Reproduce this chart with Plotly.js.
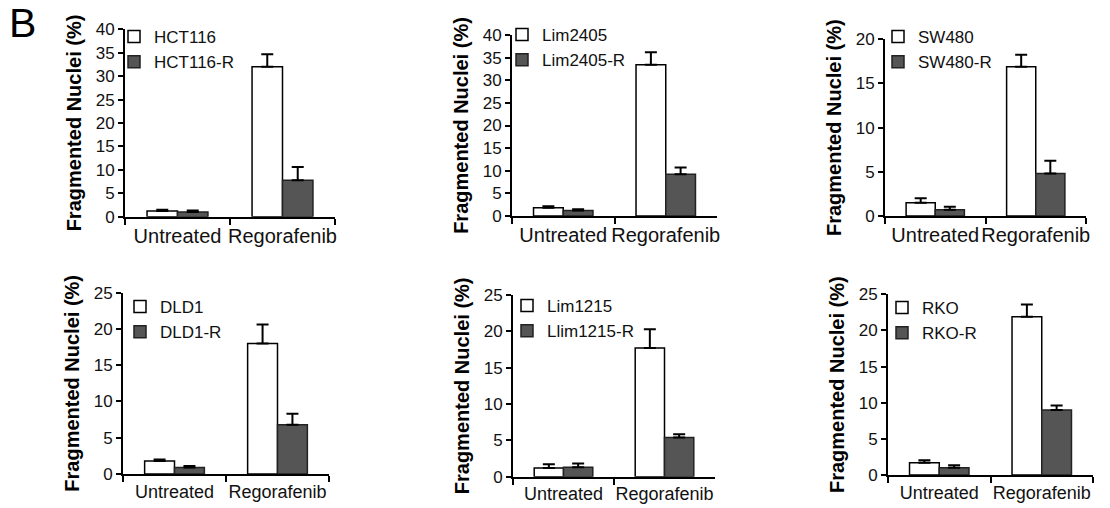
<!DOCTYPE html>
<html>
<head>
<meta charset="utf-8">
<script src="https://cdn.plot.ly/plotly-3.0.1.min.js"></script>
<style>html,body{margin:0;padding:0;background:#fff;}#chart{width:1110px;height:508px;}</style>
</head>
<body>
<div id="chart"></div>
<script>
// ---- data ----
const categories = ['Untreated', 'Regorafenib'];
const parentalNames = ['HCT116', 'Lim2405', 'SW480', 'DLD1', 'Lim1215', 'RKO'];
const resistantNames = ['HCT116-R', 'Lim2405-R', 'SW480-R', 'DLD1-R', 'Llim1215-R', 'RKO-R'];
const parentalValues = [[1.2, 32.0], [1.8, 33.4], [1.5, 16.9], [1.8, 18.0], [1.2, 17.7], [1.7, 21.9]];
const parentalErrors = [[0.3, 2.7], [0.35, 2.8], [0.5, 1.35], [0.2, 2.6], [0.5, 2.6], [0.35, 1.7]];
const resistantValues = [[1.0, 7.8], [1.2, 9.2], [0.7, 4.8], [0.9, 6.8], [1.3, 5.4], [1.0, 9.0]];
const resistantErrors = [[0.3, 2.8], [0.3, 1.5], [0.35, 1.45], [0.2, 1.5], [0.5, 0.45], [0.35, 0.6]];
const yMax = [40, 40, 20, 25, 25, 25];
const yTitle = 'Fragmented Nuclei (%)';
const panelLabel = 'B';

// ---- layout (pixel boxes: left, right, top, bottom) ----
const W = 1110, H = 508;
const boxes = [[125, 335, 29.3, 216.7], [512, 717, 35, 216], [885, 1086, 39.3, 216],
               [123, 329, 292.7, 474], [513, 715, 295, 476.7], [888, 1093, 294.3, 475]];
const legendPos = [[114, 19], [502, 17], [878, 19], [120, 289], [507, 288], [882, 290]];
const FONT = '"Liberation Sans", Arial, sans-serif';

const traces = [];
const layout = {
  width: W, height: H,
  margin: {l: 0, r: 0, t: 0, b: 0},
  paper_bgcolor: '#fff', plot_bgcolor: '#fff',
  barmode: 'group', bargap: 0.42, bargroupgap: 0,
  font: {family: FONT, color: '#000', size: 16},
  showlegend: true,
  annotations: [{
    text: panelLabel, xref: 'paper', yref: 'paper', x: 7 / W, y: 1 + 2 / H,
    xanchor: 'left', yanchor: 'top', showarrow: false,
    font: {family: FONT, size: 41, color: '#000'}
  }]
};

for (let i = 0; i < 6; i++) {
  const n = i + 1;
  const xa = n === 1 ? 'x' : 'x' + n;
  const ya = n === 1 ? 'y' : 'y' + n;
  const lg = n === 1 ? 'legend' : 'legend' + n;
  const row2 = i >= 3;
  traces.push({
    type: 'bar', x: categories, y: parentalValues[i], name: parentalNames[i],
    xaxis: xa, yaxis: ya, legend: lg,
    marker: {color: '#ffffff', line: {color: '#000', width: 1.5}},
    error_y: {type: 'data', array: parentalErrors[i], arrayminus: [0, 0], symmetric: false,
              color: '#000', thickness: 2, width: 6}
  });
  traces.push({
    type: 'bar', x: categories, y: resistantValues[i], name: resistantNames[i],
    xaxis: xa, yaxis: ya, legend: lg,
    marker: {color: '#555555', line: {color: '#222', width: 1.5}},
    error_y: {type: 'data', array: resistantErrors[i], arrayminus: [0, 0], symmetric: false,
              color: '#000', thickness: 2, width: 6}
  });
  const b = boxes[i];
  const xName = n === 1 ? 'xaxis' : 'xaxis' + n;
  const yName = n === 1 ? 'yaxis' : 'yaxis' + n;
  layout[xName] = {
    domain: [b[0] / W, b[1] / W], anchor: ya,
    showline: true, linecolor: '#000', linewidth: 2,
    ticks: 'outside', tickson: 'boundaries', ticklen: 6, tickwidth: 2, tickcolor: '#000',
    tickangle: 0,
    tickfont: {family: FONT, size: row2 ? 18 : 20, color: '#111'},
    showgrid: false, zeroline: false, fixedrange: true
  };
  layout[yName] = {
    domain: [1 - b[3] / H, 1 - b[2] / H], anchor: xa,
    range: [0, yMax[i]], dtick: 5,
    showline: true, linecolor: '#000', linewidth: 2,
    ticks: 'outside', ticklen: 5, tickwidth: 2, tickcolor: '#000',
    tickfont: {family: FONT, size: 17, color: '#111'},
    showgrid: false, zeroline: false, fixedrange: true,
    title: {text: '<b>' + yTitle + '</b>', standoff: 9,
            font: {family: FONT, size: 20, color: '#000'}}
  };
  const lp = legendPos[i];
  layout[lg] = {
    x: lp[0] / W, y: 1 - lp[1] / H, xanchor: 'left', yanchor: 'top',
    bgcolor: 'rgba(0,0,0,0)', borderwidth: 0,
    font: {family: FONT, size: 17, color: '#111'},
    itemwidth: 30, tracegroupgap: 0, traceorder: 'normal'
  };
}

Plotly.newPlot('chart', traces, layout, {staticPlot: true, displayModeBar: false});
</script>
</body>
</html>
